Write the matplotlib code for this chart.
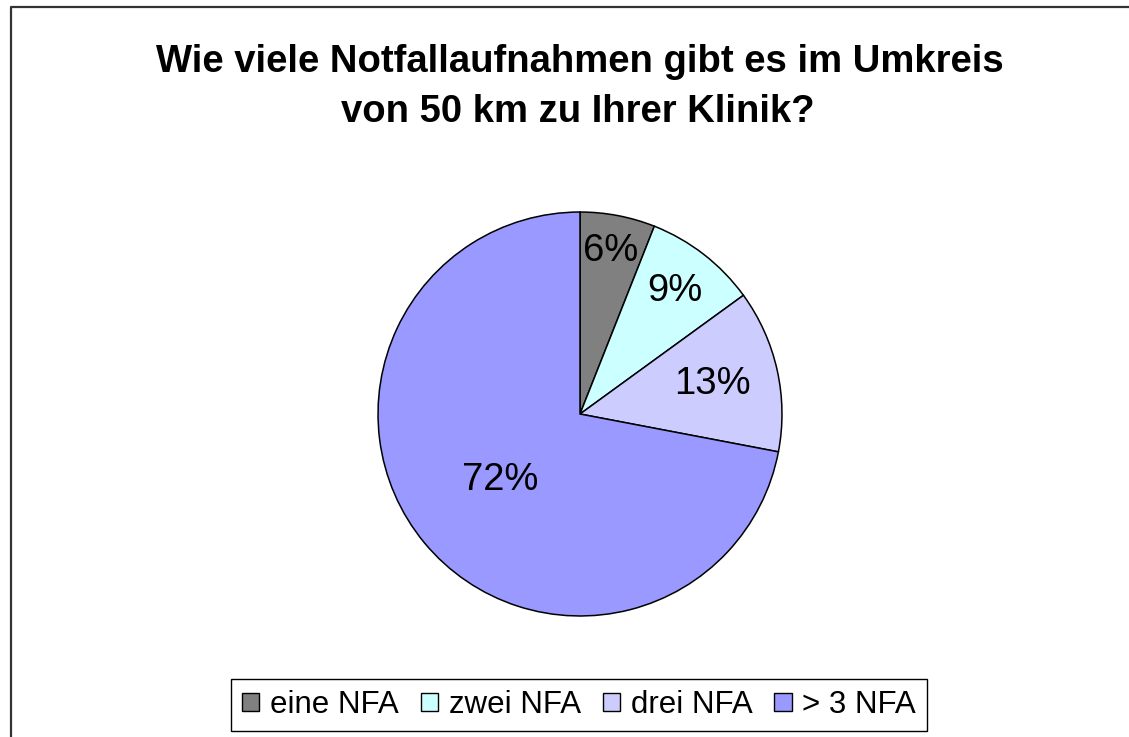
import numpy as np
import matplotlib
matplotlib.use('Agg')
import matplotlib.pyplot as plt
from matplotlib.patches import Patch
from matplotlib.lines import Line2D

plt.rcParams['font.family'] = ['Liberation Sans', 'DejaVu Sans']

# data
categories = ['eine NFA', 'zwei NFA', 'drei NFA', '> 3 NFA']
values = [6, 9, 13, 72]
labels = ['6%', '9%', '13%', '72%']
colors = ['#808080', '#CCFFFF', '#CCCCFF', '#9999FF']

W, H = 1129, 737
fig = plt.figure(figsize=(W / 100, H / 100), dpi=100)

# outer frame (only left and top visible)
fig.add_artist(Line2D([10.5 / W, 10.5 / W, 1.0], [0.0, 1 - 6.5 / H, 1 - 6.5 / H],
                      transform=fig.transFigure, color='#333333', lw=1.6))

# title
fig.text(580 / W, 1 - 62 / H, 'Wie viele Notfallaufnahmen gibt es im Umkreis',
         ha='center', va='center', fontsize=27.5, fontweight='bold')
fig.text(578 / W, 1 - 112 / H, 'von 50 km zu Ihrer Klinik?',
         ha='center', va='center', fontsize=27.5, fontweight='bold')

# pie
cx, cy, r = 580, 414, 204
ax = fig.add_axes([(cx - r) / W, (H - cy - r) / H, 2 * r / W, 2 * r / H])
wedges, _ = ax.pie(values, colors=colors, startangle=90, counterclock=False,
                   radius=1, wedgeprops=dict(edgecolor='black', linewidth=1.1))
ax.set_xlim(-1.01, 1.01)
ax.set_ylim(-1.01, 1.01)
ax.axis('off')

# percentage labels at Excel-like distances
dist = [0.82, 0.77, 0.67, 0.51]
for w, lab, d in zip(wedges, labels, dist):
    ang = np.deg2rad((w.theta1 + w.theta2) / 2)
    ax.text(d * np.cos(ang), d * np.sin(ang), lab, ha='center', va='center',
            fontsize=27.5)

# legend
handles = [Patch(facecolor=c, edgecolor='black', linewidth=1.0) for c in colors]
leg = fig.legend(handles, categories, loc='center', bbox_to_anchor=(579 / W, 1 - 705 / H),
                 ncol=4, fontsize=22.5, frameon=True, fancybox=False, edgecolor='black',
                 framealpha=1, handlelength=0.55, handleheight=0.55, handletextpad=0.35,
                 columnspacing=0.7, borderpad=0.35)
leg.get_frame().set_linewidth(1.0)

fig.savefig('out.png', dpi=100)
